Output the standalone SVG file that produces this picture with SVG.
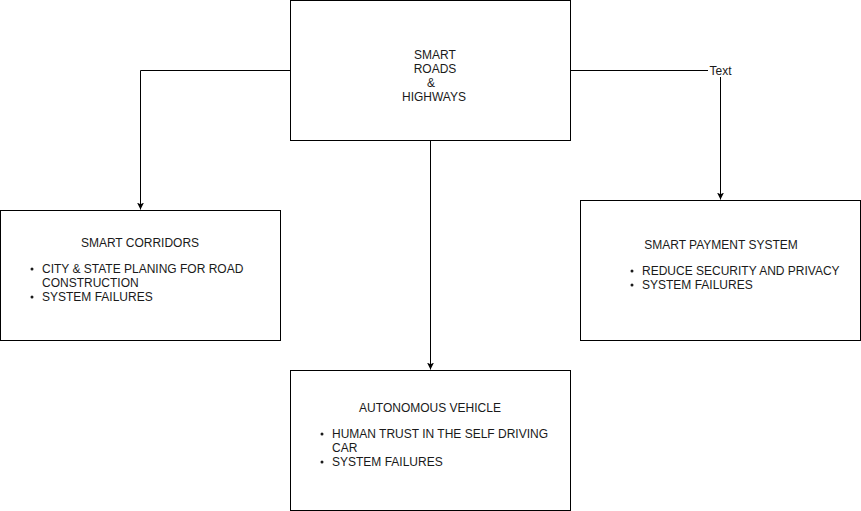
<svg xmlns="http://www.w3.org/2000/svg" width="861" height="511" viewBox="0 0 861 511">
<style>
.box{fill:#fff;stroke:#000;stroke-width:1}
.t{font-family:"Liberation Sans",Arial,sans-serif;font-size:12px;fill:#1a1a1a}
.c{text-anchor:middle}
.edge{fill:none;stroke:#000;stroke-width:1}
</style>
<defs>
<marker id="arr" markerWidth="8" markerHeight="10" refX="7" refY="4" orient="auto" markerUnits="userSpaceOnUse" viewBox="0 0 8 8">
<path d="M0,0.5 L7,4 L0,7.5 L1.8,4 Z" fill="#000"/>
</marker>
</defs>
<rect width="861" height="511" fill="#fff"/>
<g id="connectors">
<path class="edge" d="M290.5,70.5 H140.5 V209.5" marker-end="url(#arr)"/>
<path class="edge" d="M570.5,70.5 H720.5 V199.5" marker-end="url(#arr)"/>
<path class="edge" d="M430.5,140.5 V369.5" marker-end="url(#arr)"/>
<rect x="708" y="64" width="25" height="13" fill="#fff"/>
<text class="t c" x="720.5" y="74.5">Text</text>
</g>
<g id="smart-roads">
<rect class="box" x="290.5" y="0.5" width="280" height="140"/>
<text class="t c" x="435" y="58.5">SMART</text>
<text class="t c" x="435" y="72.5">ROADS</text>
<text class="t c" x="431" y="86.5">&amp;</text>
<text class="t c" x="434" y="100.5">HIGHWAYS</text>
</g>
<g id="smart-corridors">
<rect class="box" x="0.5" y="210.5" width="280" height="130"/>
<text class="t c" x="140" y="246.5">SMART CORRIDORS</text>
<circle cx="32" cy="269" r="1.5" fill="#1a1a1a"/>
<text class="t" x="42" y="272.5">CITY &amp; STATE PLANING FOR ROAD</text>
<text class="t" x="42" y="286.5">CONSTRUCTION</text>
<circle cx="32" cy="297" r="1.5" fill="#1a1a1a"/>
<text class="t" x="42" y="300.5">SYSTEM FAILURES</text>
</g>
<g id="smart-payment">
<rect class="box" x="580.5" y="200.5" width="280" height="140"/>
<text class="t c" x="721" y="248.5">SMART PAYMENT SYSTEM</text>
<circle cx="632" cy="271" r="1.5" fill="#1a1a1a"/>
<text class="t" x="642" y="274.5">REDUCE SECURITY AND PRIVACY</text>
<circle cx="632" cy="285" r="1.5" fill="#1a1a1a"/>
<text class="t" x="642" y="288.5">SYSTEM FAILURES</text>
</g>
<g id="autonomous-vehicle">
<rect class="box" x="290.5" y="370.5" width="280" height="140"/>
<text class="t c" x="430" y="411.5">AUTONOMOUS VEHICLE</text>
<circle cx="322" cy="434" r="1.5" fill="#1a1a1a"/>
<text class="t" x="332" y="437.5">HUMAN TRUST IN THE SELF DRIVING</text>
<text class="t" x="332" y="451.5">CAR</text>
<circle cx="322" cy="462" r="1.5" fill="#1a1a1a"/>
<text class="t" x="332" y="465.5">SYSTEM FAILURES</text>
</g>
</svg>
